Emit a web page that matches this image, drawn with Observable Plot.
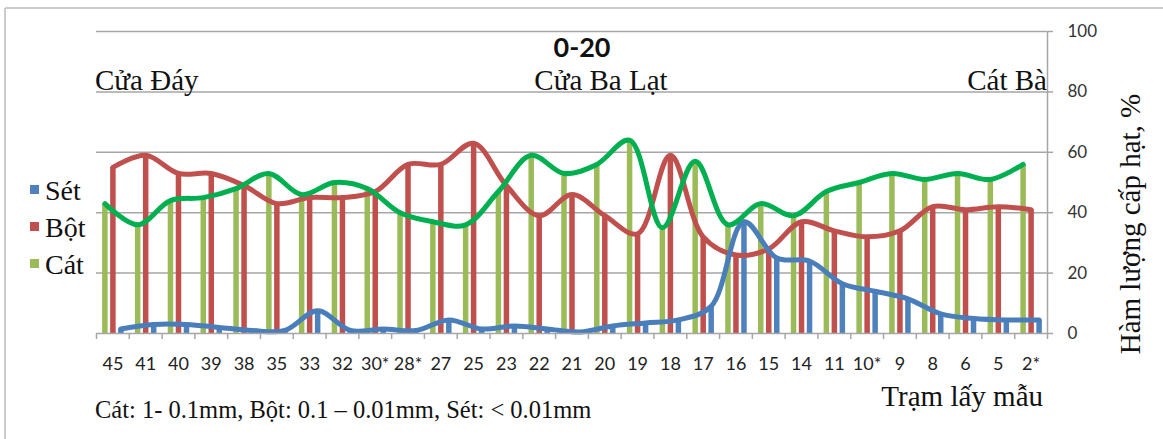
<!DOCTYPE html>
<html>
<head>
<meta charset="utf-8">
<script src="https://cdn.jsdelivr.net/npm/d3@7"></script>
<script src="https://cdn.jsdelivr.net/npm/@observablehq/plot@0.6"></script>
<style>
  html, body { margin: 0; padding: 0; background: white; }
  #chart { width: 1163px; height: 439px; }
</style>
</head>
<body>
<div id="chart"></div>
<script>
const stations = ["45","41","40","39","38","35","33","32","30*","28*","27","25","23","22","21","20","19","18","17","16","15","14","11","10*","9","8","6","5","2*"];
const cat = [43,36,44,45,48,53,46,50,48,40,37,36,47,59,53,56,64,35,57,36,43,39,47,50,53,51,53,51,56];
const bot = [55,59,53,53,49,43,45,45,47,56,56,63,49,39,46,39,33,59,32,26,28,37,34,32,34,42,41,42,41];
const set = [1.5,3,3,2,1,1,7.5,1,1.5,1,4.5,1.5,2.5,1.5,0.5,2.5,3.5,4.5,9,37,25,24,16.5,14,11.5,6.5,5,4.5,4.5];
const seriesNames = ["Sét","Bột","Cát"];
const yTicks = [0,20,40,60,80,100];
const title = "0-20";
const sites = ["Cửa Đáy","Cửa Ba Lạt","Cát Bà"];
const yLabel = "Hàm lượng cấp hạt, %";
const xLabel = "Trạm lấy mẫu";
const note = "Cát: 1- 0.1mm, Bột: 0.1 – 0.01mm, Sét: < 0.01mm";

const barColors = {"Sét":"#4f81bd","Bột":"#c0504d","Cát":"#9bbb59"};
const lineColors = {"Sét":"#4a7ebb","Bột":"#c0504d","Cát":"#00b050"};

function rows(values) { return values.map((v, i) => ({pos: i + 0.5, value: v})); }
const dataSet = rows(set), dataBot = rows(bot), dataCat = rows(cat);

const serif = "'Liberation Serif', 'Times New Roman', serif";
const sans = "Lato, 'Open Sans', sans-serif";

const bars = (data, name, dx) => Plot.ruleX(data, {x: "pos", y1: 0, y2: "value", stroke: barColors[name], strokeWidth: 5.5, dx});
const line = (data, name, dx) => Plot.line(data, {x: "pos", y: "value", stroke: lineColors[name], strokeWidth: 5, curve: "catmull-rom", dx, strokeLinejoin: "round", strokeLinecap: "round"});

const chart = Plot.plot({
  width: 1163, height: 439,
  marginLeft: 96, marginRight: 116, marginTop: 31, marginBottom: 106,
  x: {domain: [0, stations.length], axis: null, label: null},
  y: {domain: [0, 100], axis: null, label: null},
  style: {background: "white", fontFamily: sans, overflow: "visible"},
  marks: [
    Plot.ruleY([20,40,60,80,100], {stroke: "#a6a6a6", strokeWidth: 1.5}),
    bars(dataCat, "Cát", -8),
    bars(dataBot, "Bột", 0),
    bars(dataSet, "Sét", 8),
    line(dataBot, "Bột", 0),
    line(dataSet, "Sét", 8),
    line(dataCat, "Cát", -8),
    Plot.ruleY([0], {stroke: "#a6a6a6", strokeWidth: 1.5}),
    Plot.ruleX([stations.length], {stroke: "#a6a6a6", strokeWidth: 1.5}),
    Plot.axisX(d3.range(0, stations.length + 1), {tickSize: 6, tickFormat: () => "", label: null, stroke: "#a6a6a6", strokeWidth: 1.5}),
    Plot.axisX(stations.map((s, i) => i + 0.5), {tickSize: 0, tickPadding: 24, label: null, tickFormat: d => stations[Math.round(d - 0.5)], fontSize: 18, fill: "#222"}),
    Plot.axisY(yTicks, {anchor: "right", tickSize: 5, tickPadding: 15, label: null, fontSize: 17, fill: "#333", stroke: "#a6a6a6", strokeWidth: 1.5})
  ]
});
document.getElementById("chart").appendChild(chart);

const svg = d3.select(chart);
// outer frame
svg.append("line").attr("x1", 5).attr("x2", 1163).attr("y1", 8).attr("y2", 8).attr("stroke", "#bbb").attr("stroke-width", 1.5);
svg.append("line").attr("x1", 5).attr("x2", 5).attr("y1", 8).attr("y2", 439).attr("stroke", "#bbb").attr("stroke-width", 1.5);

svg.append("text").attr("x", 582).attr("y", 57).attr("text-anchor", "middle")
  .attr("font-family", sans).attr("font-weight", "bold").attr("font-size", 27).attr("fill", "#111").text(title);

const siteX = [95, 601, 1047], siteAnchor = ["start", "middle", "end"];
sites.forEach((s, i) => svg.append("text").attr("x", siteX[i]).attr("y", 90).attr("text-anchor", siteAnchor[i])
  .attr("font-family", serif).attr("font-size", 29).attr("fill", "#111").text(s));

// legend
const legY = [190, 227, 264];
seriesNames.forEach((s, i) => {
  svg.append("rect").attr("x", 30).attr("y", legY[i] - 5).attr("width", 9).attr("height", 9).attr("fill", barColors[s]);
  svg.append("text").attr("x", 45).attr("y", legY[i] + 10).attr("text-anchor", "start").attr("font-family", serif).attr("font-size", 28).attr("fill", "#111").text(s);
});

svg.append("text").attr("transform", "translate(1140,224) rotate(-90)").attr("text-anchor", "middle")
  .attr("font-family", serif).attr("font-size", 29).attr("fill", "#111").text(yLabel);
svg.append("text").attr("x", 1043).attr("y", 406).attr("text-anchor", "end")
  .attr("font-family", serif).attr("font-size", 29).attr("fill", "#111").text(xLabel);
svg.append("text").attr("x", 95).attr("y", 418).attr("text-anchor", "start")
  .attr("font-family", serif).attr("font-size", 24.5).attr("fill", "#111").text(note);
</script>
</body>
</html>
